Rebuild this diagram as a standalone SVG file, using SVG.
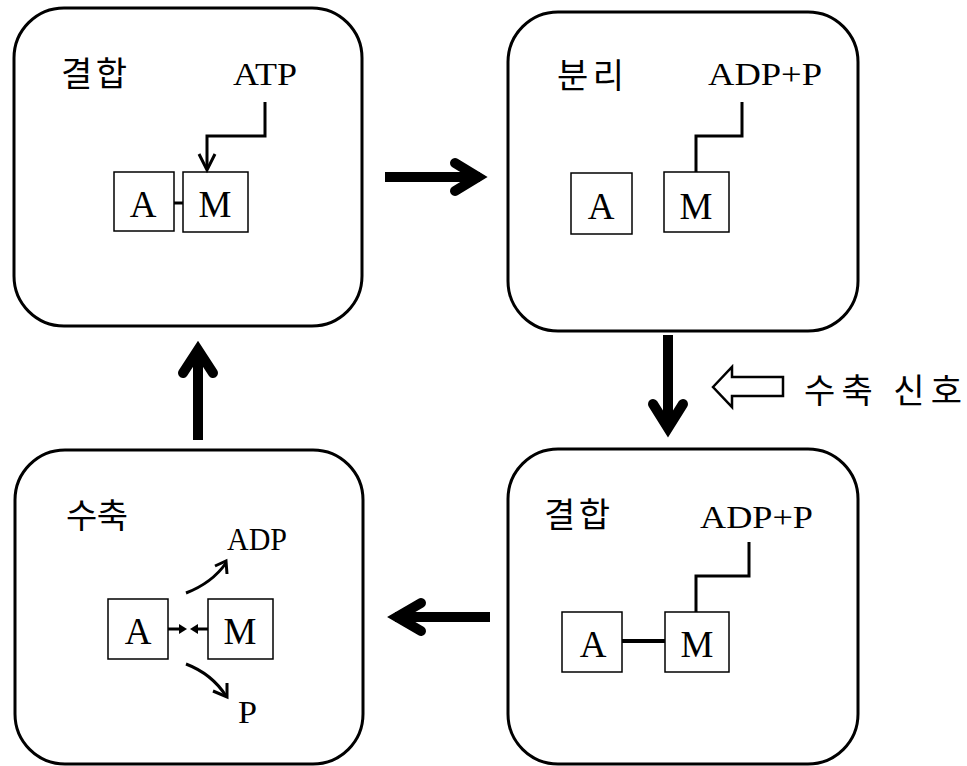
<svg xmlns="http://www.w3.org/2000/svg" width="967" height="766" viewBox="0 0 967 766">
<style>
.panel{fill:#fff;stroke:#000;stroke-width:3}
.box{fill:#fff;stroke:#000;stroke-width:1.5}
.kr{font-family:"Noto Sans CJK KR","Liberation Serif",serif;font-size:34px;fill:#000}
.lat{font-family:"Liberation Serif",serif;font-size:32px;fill:#000}
.bx{font-family:"Liberation Serif",serif;font-size:37px;fill:#000;text-anchor:middle}
.thin{fill:none;stroke:#000;stroke-width:3}
.big{fill:none;stroke:#000;stroke-width:10;stroke-linecap:round;stroke-linejoin:miter}
.shaft{fill:none;stroke:#000;stroke-width:10;stroke-linecap:butt}
</style>
<rect width="967" height="766" fill="#fff"/>

<g id="panel-binding1">
  <rect class="panel" x="14" y="8" width="348" height="318" rx="50"/>
  <text class="kr" x="61" y="86" textLength="66" lengthAdjust="spacing">결합</text>
  <text class="lat" x="233" y="85" textLength="64" lengthAdjust="spacingAndGlyphs">ATP</text>
  <g id="p1-A"><rect class="box" x="114" y="172" width="60" height="59"/><text class="bx" x="143" y="217">A</text></g>
  <g id="p1-M"><rect class="box" x="183" y="172" width="65" height="60"/><text class="bx" x="215" y="217">M</text></g>
</g>

<g id="panel-separation">
  <rect class="panel" x="508" y="12" width="350" height="319" rx="50"/>
  <text class="kr" x="557" y="88" textLength="67" lengthAdjust="spacing">분리</text>
  <text class="lat" x="708" y="85" textLength="114" lengthAdjust="spacingAndGlyphs">ADP+P</text>
  <g id="p2-A"><rect class="box" x="571" y="173" width="61" height="61"/><text class="bx" x="601" y="219">A</text></g>
  <g id="p2-M"><rect class="box" x="664" y="172" width="65" height="60"/><text class="bx" x="696" y="219">M</text></g>
</g>

<g id="panel-contraction">
  <rect class="panel" x="15" y="450" width="348" height="314" rx="50"/>
  <text class="kr" x="66" y="528" textLength="62" lengthAdjust="spacing">수축</text>
  <text class="lat" x="227" y="550" font-size="28" textLength="60" lengthAdjust="spacingAndGlyphs">ADP</text>
  <text class="lat" x="238" y="723" font-size="28" textLength="19" lengthAdjust="spacingAndGlyphs">P</text>
  <g id="p3-A"><rect class="box" x="108" y="599" width="60" height="60"/><text class="bx" x="138" y="644">A</text></g>
  <g id="p3-M"><rect class="box" x="208" y="599" width="65" height="60"/><text class="bx" x="240" y="644">M</text></g>
</g>

<g id="panel-binding2">
  <rect class="panel" x="508" y="449" width="350" height="315" rx="50"/>
  <text class="kr" x="544" y="527" textLength="66" lengthAdjust="spacing">결합</text>
  <text class="lat" x="700" y="528" textLength="113" lengthAdjust="spacingAndGlyphs">ADP+P</text>
  <g id="p4-A"><rect class="box" x="562" y="612" width="60" height="60"/><text class="bx" x="593" y="657">A</text></g>
  <g id="p4-M"><rect class="box" x="665" y="612" width="64" height="60"/><text class="bx" x="697" y="657">M</text></g>
</g>

<g id="signal">
  <polygon points="713,387 732,367 732,377 783,377 783,396 732,396 732,407" fill="#fff" stroke="#000" stroke-width="2.5" stroke-linejoin="miter"/>
  <text class="kr" x="804" y="403" font-size="36" textLength="158" lengthAdjust="spacing">수축 신호</text>
</g>

<g id="connectors">
  <path class="thin" d="M265,102 V136 H207 V168"/>
  <path class="thin" d="M199,154 L207,170 L215,154"/>
  <path d="M174,203 H183" stroke="#000" stroke-width="3"/>
  <path class="thin" d="M742,102 V136 H696 V172"/>
  <path class="thin" d="M749,542 V576 H696 V612"/>
  <path d="M622,641 H665" stroke="#000" stroke-width="4"/>
  <path d="M168,629 H181" stroke="#000" stroke-width="3"/>
  <polygon points="179,624 187,629 179,634" fill="#000"/>
  <path d="M208,629 H195" stroke="#000" stroke-width="3"/>
  <polygon points="198,624 190,629 198,634" fill="#000"/>
  <path class="thin" d="M186,593 Q212,583 226,563"/>
  <path class="thin" d="M215,566 L226,561 L227,574" stroke-linejoin="miter"/>
  <path class="thin" d="M186,664 Q212,674 226,696"/>
  <path class="thin" d="M213,691 L227,697 L227,683" stroke-linejoin="miter"/>
  <path class="shaft" d="M385,177 H480"/>
  <path class="big" d="M455,163 L478,177 L455,191"/>
  <path class="shaft" d="M668,335 V425"/>
  <path class="big" d="M653,404 L668,428 L683,404"/>
  <path class="shaft" d="M490,617 H395"/>
  <path class="big" d="M421,603 L397,617 L421,631"/>
  <path class="shaft" d="M198,440 V350"/>
  <path class="big" d="M183,373 L198,350 L213,373"/>
</g>
</svg>
